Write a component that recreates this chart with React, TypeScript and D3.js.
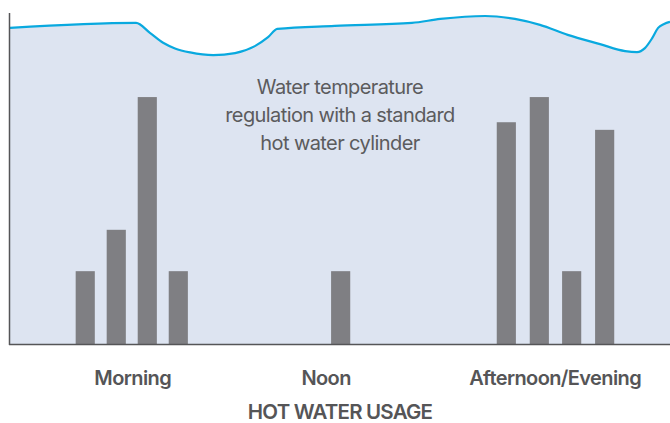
import React from "react";
import * as d3 from "d3";

// time of day (0-100 arbitrary day units), temperature (0-100 relative)
const tempTime = [0, 19.1, 21.2, 23.2, 25.0, 27.3, 30.8, 34.1, 37.1, 39.1, 40.5, 49.2, 60.9, 65.2, 72.0, 76.5, 80.3, 84.5, 89.4, 93.2, 95.0, 96.2, 97.3, 98.2, 99.1, 100];
const tempValue = [95.5, 97.0, 94.0, 91.0, 89.3, 88.1, 87.3, 87.9, 90.0, 92.7, 95.2, 96.1, 97.0, 98.2, 99.1, 98.2, 96.4, 93.4, 90.6, 88.5, 88.2, 89.4, 92.4, 95.5, 96.7, 97.3];

// hot water usage bars
const usageTime = [11.4, 16.1, 20.8, 25.5, 50.1, 75.2, 80.2, 85.1, 90.1];
const usageValue = [22, 34.5, 74.6, 22, 22, 67, 74.6, 22, 64.7];
const barWidthUnits = 2.9;

const periodLabels = ["Morning", "Noon", "Afternoon/Evening"];
const periodTime = [18.6, 47.9, 82.6];

const noteLines = ["Water temperature", "regulation with a standard", "hot water cylinder"];
const axisTitle = "HOT WATER USAGE";

export default function App() {
  const W = 670, H = 423;
  const left = 10, right = 670, top = 13, bottom = 344;
  const x = d3.scaleLinear().domain([0, 100]).range([left, right]);
  const y = d3.scaleLinear().domain([0, 100]).range([bottom, top]);

  const pts = tempTime.map((t, i) => [t, tempValue[i]] as [number, number]);
  const line = d3.line<[number, number]>().x(d => x(d[0])).y(d => y(d[1])).curve(d3.curveMonotoneX);
  const area = d3.area<[number, number]>().x(d => x(d[0])).y0(bottom).y1(d => y(d[1])).curve(d3.curveMonotoneX);
  const bw = x(barWidthUnits) - x(0);
  const font = "Inter, 'Noto Sans', sans-serif";

  return (
    <svg width={W} height={H} style={{ position: "absolute", left: 0, top: 0 }}>
      <rect x={0} y={0} width={W} height={H} fill="#ffffff" />
      <path d={area(pts) || ""} fill="#dde4f1" />
      {usageTime.map((t, i) => (
        <rect key={i} x={x(t) - bw / 2} y={y(usageValue[i])} width={bw} height={bottom - y(usageValue[i])} fill="#7f7f83" />
      ))}
      <path d={line(pts) || ""} fill="none" stroke="#09a9df" strokeWidth={2.2} />
      <line x1={left - 0.5} x2={left - 0.5} y1={top} y2={bottom + 1} stroke="#555557" strokeWidth={1.5} />
      <line x1={left - 1} x2={right} y1={bottom + 0.5} y2={bottom + 0.5} stroke="#555557" strokeWidth={1.5} />
      {noteLines.map((s, i) => (
        <text key={i} x={340} y={94 + i * 28} textAnchor="middle" fontFamily={font} fontSize={20} fill="#5b5b5d" letterSpacing={-0.6}>{s}</text>
      ))}
      {periodLabels.map((s, i) => (
        <text key={i} x={x(periodTime[i])} y={385} textAnchor="middle" fontFamily={font} fontSize={20} fontWeight={600} fill="#555557" letterSpacing={-0.6}>{s}</text>
      ))}
      <text x={340} y={419} textAnchor="middle" fontFamily={font} fontSize={20.5} fontWeight={600} fill="#555557" letterSpacing={-0.8}>{axisTitle}</text>
    </svg>
  );
}
